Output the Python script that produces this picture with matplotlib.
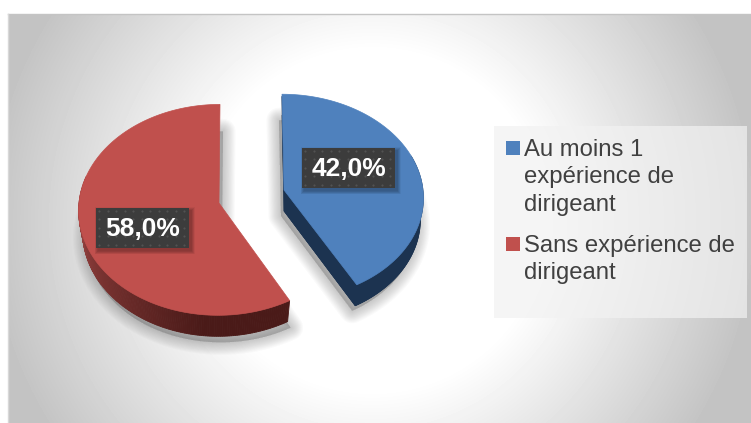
import numpy as np
import matplotlib
matplotlib.use('Agg')
import matplotlib.pyplot as plt
from matplotlib.patches import Polygon, Rectangle

plt.rcParams['font.family'] = ['Liberation Sans', 'DejaVu Sans']

# Valeurs du graphique
categories = ['Au moins 1\nexpérience de\ndirigeant', 'Sans expérience de\ndirigeant']
parts = [42.0, 58.0]
etiquettes = ['42,0%', '58,0%']
couleurs = ['#4f81bd', '#c0504d']


# point du disque en pseudo perspective (angle en degres depuis le haut, sens horaire)
def disque(t, cx, cy, rx, ry, skew=0.0):
    t = np.radians(t)
    u, v = np.sin(t), np.cos(t)
    w = 1 + 0.065 * v
    return np.column_stack([cx + rx * u / w + skew * v, cy - ry * v / w])


def part_xy(t0, t1, cx, cy, rx, ry, skew=0.0):
    bord = disque(np.linspace(t0, t1, 200), cx, cy, rx, ry, skew)
    return np.vstack([[cx, cy], bord])


def ombre(pts, ax):
    # ombre floue : polygones empiles
    for lw in np.arange(18, 0, -1.5):
        ax.add_patch(Polygon(pts, closed=True, fc='#505050', ec='#505050', lw=lw,
                             alpha=0.028, joinstyle='round', zorder=2))


fig = plt.figure(figsize=(7.51, 4.23), dpi=100)
ax = fig.add_axes([0, 0, 1, 1])

# fond degrade
xx, yy = np.meshgrid(np.arange(8, 751), np.arange(14, 423))
d = np.hypot(xx - 372, yy - 220)
fond = 255 - 60 * np.clip((d - 170) / 215, 0, 1)
ax.imshow(fond, cmap='gray', vmin=0, vmax=255, extent=(8, 751, 423, 14), aspect='auto', zorder=0)
ax.set_xlim(0, 751)
ax.set_ylim(423, 0)
ax.axis('off')
ax.plot([8, 751], [14, 14], color='#c4c4c4', lw=1, zorder=1)
ax.plot([8, 8], [14, 423], color='#d8d8d8', lw=1, zorder=1)

# angles a partir des valeurs
angle_bleu = parts[0] / sum(parts) * 360
prof = 21

# part rouge
rouge = dict(cx=219, cy=203, rx=140, ry=105, skew=1)
rouge_bas = dict(rouge, cy=203 + prof, rx=136)
pts_r = part_xy(angle_bleu, 360, **rouge)
ombre(part_xy(angle_bleu, 360, **rouge_bas) + [3, 6], ax)
ts = np.linspace(angle_bleu, 285, 160)
for a, b in zip(ts[:-1], ts[1:]):
    t = np.array([a, b])
    p_haut = disque(t, **rouge)
    p_bas = disque(t, **rouge_bas)
    f = np.clip((a - 185) / 80, 0, 1)
    c = np.array([0x4a, 0x1a, 0x18]) * (1 - f) + np.array([0x96, 0x42, 0x40]) * f
    ax.add_patch(Polygon(np.vstack([p_haut, p_bas[::-1]]), closed=True, fc=c / 255, ec=c / 255,
                         lw=0.6, zorder=3))
ax.add_patch(Polygon(pts_r, closed=True, fc=couleurs[1], ec=couleurs[1], lw=0.5, zorder=4))

# part bleue
bleu = dict(cx=284, cy=190, rx=139, ry=102, skew=-2)
bleu_bas = dict(bleu, cy=190 + prof, rx=136)
pts_b = part_xy(0, angle_bleu, **bleu)
ombre(part_xy(0, angle_bleu, **bleu_bas) + [-3, 5], ax)
sombre = '#1c3350'
ax.add_patch(Polygon(pts_b + [-0.6, 2], closed=True, fc=sombre, ec='none', zorder=3))
ax.add_patch(Polygon(part_xy(0, angle_bleu, **bleu_bas), closed=True, fc=sombre, ec=sombre, lw=0.5, zorder=3))
bout = disque(np.array([angle_bleu]), **bleu)[0]
bout_bas = disque(np.array([angle_bleu]), **bleu_bas)[0]
ax.add_patch(Polygon([pts_b[0], bout, bout_bas, [284, 190 + prof]], closed=True,
                     fc=sombre, ec=sombre, lw=0.5, zorder=3))
ts = np.linspace(70, angle_bleu, 60)
ax.add_patch(Polygon(np.vstack([disque(ts, **bleu), disque(ts, **bleu_bas)[::-1]]), closed=True,
                     fc=sombre, ec=sombre, lw=0.5, zorder=3))
ax.add_patch(Polygon(pts_b, closed=True, fc=couleurs[0], ec=couleurs[0], lw=0.5, zorder=4))

# etiquettes
for (x, y), txt in zip([(302, 148), (96, 208)], etiquettes):
    for e in np.arange(7, 0, -1):
        ax.add_patch(Rectangle((x + 2 - e / 2, y + 3 - e / 2), 93 + e, 40 + e, fc='black', ec='none',
                               alpha=0.045, zorder=5))
    ax.add_patch(Rectangle((x, y), 93, 40, fc='#3c3c3c', ec='none', zorder=6))
    gx, gy = np.meshgrid(np.arange(x + 3, x + 92, 8.5), np.arange(y + 3, y + 40, 8.5))
    ax.scatter(gx.ravel(), gy.ravel(), s=2.5, color='#525252', linewidths=0, zorder=6.5)
    ax.text(x + 46.5, y + 21, txt, color='white', fontsize=19, fontweight='bold', ha='center',
            va='center', zorder=7)

# legende
ax.add_patch(Rectangle((494, 126), 253, 192, fc='#f2f2f2', ec='none', alpha=0.7, zorder=1))
carres = [(506, 141), (506, 237)]
bases = [156, 252]
for c, (x, y), b, nom in zip(couleurs, carres, bases, categories):
    ax.add_patch(Rectangle((x, y), 14, 14, fc=c, ec='none', zorder=3))
    for i, ligne in enumerate(nom.split('\n')):
        ax.text(524, b + 27.5 * i, ligne, color='#404040', fontsize=17.2, va='baseline', zorder=3)

fig.savefig('out.png', dpi=100, facecolor='white')
